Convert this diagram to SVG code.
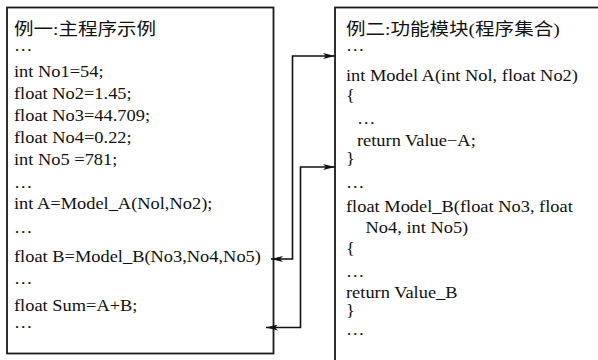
<svg xmlns="http://www.w3.org/2000/svg" width="598" height="360" viewBox="0 0 598 360">
  <style>
    .box { fill: #ffffff; stroke: #1a1a1a; stroke-width: 1.8; }
    .code { font-family: "Liberation Serif", "Times New Roman", "DejaVu Serif", serif; font-size: 16px; fill: #111111; }
    .title { font-family: "Liberation Serif", "Noto Sans CJK SC", serif; font-size: 17px; fill: #111111; }
    .wire { fill: none; stroke: #111111; stroke-width: 1.6; }
  </style>
  <defs>
    <marker id="head" viewBox="0 0 12 6" refX="12" refY="3" markerWidth="12" markerHeight="6" markerUnits="userSpaceOnUse" orient="auto-start-reverse">
      <path d="M0,0 L12,3 L0,6 L3,3 Z" fill="#111111"/>
    </marker>
  </defs>
  <rect width="598" height="360" fill="#ffffff"/>

  <!-- main program -->
  <g id="main-program">
    <rect class="box" x="7" y="7.5" width="266.5" height="346"/>
    <g transform="translate(14,0) scale(1.15,1)">
      <text class="title" x="0" y="35">例一:主程序示例</text>
      <g class="code">
        <text x="0" y="51.5">…</text>
        <text x="0" y="77.5">int No1=54;</text>
        <text x="0" y="99.5">float No2=1.45;</text>
        <text x="0" y="121.5">float No3=44.709;</text>
        <text x="0" y="143.5">float No4=0.22;</text>
        <text x="0" y="165.5">int No5 =781;</text>
        <text x="0" y="188.5">…</text>
        <text x="0" y="209.5">int A=Model_A(Nol,No2);</text>
        <text x="0" y="233">…</text>
        <text x="0" y="262.5">float B=Model_B(No3,No4,No5)</text>
        <text x="0" y="284.5">…</text>
        <text x="0" y="311">float Sum=A+B;</text>
        <text x="0" y="328">…</text>
      </g>
    </g>
  </g>

  <!-- function modules -->
  <g id="function-modules">
    <rect class="box" x="335" y="7.5" width="270" height="360"/>
    <g transform="translate(346,0) scale(1.15,1)">
      <text class="title" x="0" y="35">例二:功能模块(程序集合)</text>
      <g class="code">
        <text x="0" y="51.5">…</text>
        <text x="0" y="81">int Model A(int Nol, float No2)</text>
        <text x="0" y="101.5">{</text>
        <text x="9.5" y="124.5">…</text>
        <text x="9.5" y="146">return Value−A;</text>
        <text x="0" y="164.5">}</text>
        <text x="0" y="188.5">…</text>
        <text x="0" y="212">float Model_B(float No3, float</text>
        <text x="17" y="233.5">No4, int No5)</text>
        <text x="0" y="254.5">{</text>
        <text x="0" y="277">…</text>
        <text x="0" y="298">return Value_B</text>
        <text x="0" y="316.5">}</text>
        <text x="0" y="335.5">…</text>
      </g>
    </g>
  </g>

  <!-- call / return connectors -->
  <g id="connectors">
    <polyline class="wire" points="271,259 292.5,259 292.5,56 335,56" marker-start="url(#head)" marker-end="url(#head)"/>
    <polyline class="wire" points="266,327.5 300.5,327.5 300.5,167 335,167" marker-start="url(#head)" marker-end="url(#head)"/>
  </g>
</svg>
